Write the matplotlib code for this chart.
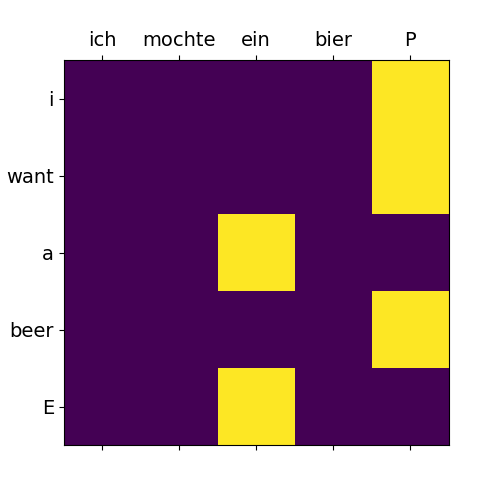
import matplotlib
matplotlib.use('Agg')
import matplotlib.pyplot as plt
import numpy as np

src_words = ['ich', 'mochte', 'ein', 'bier', 'P']
tgt_words = ['i', 'want', 'a', 'beer', 'E']
attn = np.array([
    [0, 0, 0, 0, 1],
    [0, 0, 0, 0, 1],
    [0, 0, 1, 0, 0],
    [0, 0, 0, 0, 1],
    [0, 0, 1, 0, 0],
])

fig = plt.figure(figsize=(5, 5), dpi=100)
ax = fig.add_subplot(1, 1, 1)
ax.matshow(attn, cmap='viridis')
ax.set_xticks(range(len(src_words)))
ax.set_yticks(range(len(tgt_words)))
ax.set_xticklabels(src_words, fontdict={'fontsize': 14})
ax.set_yticklabels(tgt_words, fontdict={'fontsize': 14})

plt.savefig('out.png')
